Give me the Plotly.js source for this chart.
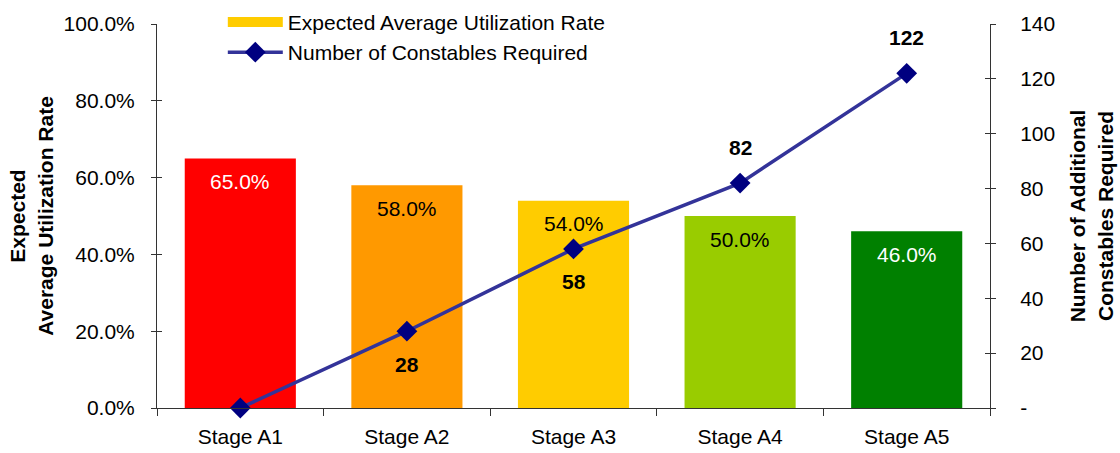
<!DOCTYPE html>
<html><head><meta charset="utf-8">
<script src="https://cdn.plot.ly/plotly-3.0.1.min.js"></script>
<style>body{margin:0;background:#fff}#c{width:1120px;height:453px}</style>
</head><body><div id="c"></div>
<script>
const stages = ['Stage A1','Stage A2','Stage A3','Stage A4','Stage A5'];
const utilization = [0.65, 0.58, 0.54, 0.50, 0.46];
const constables = [0, 28, 58, 82, 122];
const barColors = ['#FF0000','#FF9900','#FFCC00','#99CC00','#008000'];
const barLabelColors = ['#FFFFFF','#000000','#000000','#000000','#FFFFFF'];
const lineLabelSide = ['none','below','below','above','above'];
const leftTickVals = [0,0.2,0.4,0.6,0.8,1];
const rightTickVals = [0,20,40,60,80,100,120,140];
const rightTickText = ['-','20','40','60','80','100','120','140'];

const FONT = 'Liberation Sans, Arial, sans-serif';
const FS = 21;

const bars = {
  type:'bar', x:stages, y:utilization, name:'Expected Average Utilization Rate',
  marker:{color:barColors}, hoverinfo:'skip', showlegend:false
};
const legendBar = {
  type:'scatter', mode:'lines', x:[null], y:[null], name:'Expected Average Utilization Rate',
  line:{color:'#FFCC00', width:15}, legendgroup:'a'
};
const line = {
  type:'scatter', mode:'lines+markers', x:stages, y:constables, yaxis:'y2',
  name:'Number of Constables Required', legendgroup:'b',
  line:{color:'#333399', width:3.5},
  marker:{symbol:'diamond', size:16, color:'#000080'},
  cliponaxis:false
};
// helper traces on overlay axes so that inward tick halves are drawn
const helperL = {type:'scatter', mode:'none', x:[stages[0]], y:[null], yaxis:'y3', showlegend:false, hoverinfo:'skip'};
const helperR = {type:'scatter', mode:'none', x:[stages[0]], y:[null], yaxis:'y4', showlegend:false, hoverinfo:'skip'};

const annotations = [];
stages.forEach((s,i)=>{
  annotations.push({x:s, y:utilization[i], xref:'x', yref:'y', yanchor:'middle',
    text:(utilization[i]*100).toFixed(1)+'%', showarrow:false, yshift:-23,
    font:{family:FONT, size:FS, color:barLabelColors[i]}});
  if(lineLabelSide[i] !== 'none'){
    annotations.push({x:s, y:constables[i], xref:'x', yref:'y2', yanchor:'middle',
      text:'<b>'+constables[i]+'</b>', showarrow:false,
      yshift: lineLabelSide[i]==='below' ? -33 : 36,
      font:{family:FONT, size:FS, color:'#000'}});
  }
});

const axisCommon = {showgrid:false, zeroline:false, linecolor:'#333', tickcolor:'#333', tickwidth:1};

const layout = {
  width:1120, height:453,
  margin:{l:157, r:130, t:24, b:45, autoexpand:false},
  paper_bgcolor:'#fff', plot_bgcolor:'#fff',
  font:{family:FONT, size:FS, color:'#000'},
  bargap:0.333,
  showlegend:true,
  legend:{x:0.079, y:1.058, xanchor:'left', yanchor:'top', bgcolor:'rgba(0,0,0,0)',
    font:{family:FONT, size:FS}, itemwidth:55, tracegroupgap:0, traceorder:'grouped'},
  xaxis:Object.assign({}, axisCommon, {showline:true, ticks:'outside', ticklen:7,
    tickson:'boundaries', ticklabelstandoff:10, tickfont:{family:FONT, size:FS}}),
  yaxis:Object.assign({}, axisCommon, {range:[0,1], tickvals:leftTickVals, tickformat:'.1%', showline:true,
    ticks:'outside', ticklen:5, ticklabelstandoff:12, tickfont:{family:FONT, size:FS},
    title:{text:'<b>Expected<br>Average Utilization Rate</b>', font:{family:FONT, size:FS}, standoff:4}}),
  yaxis2:Object.assign({}, axisCommon, {range:[0,140], overlaying:'y', side:'right', tickvals:rightTickVals, ticktext:rightTickText,
    showline:true, ticks:'outside', ticklen:5, ticklabelstandoff:20, tickfont:{family:FONT, size:FS},
    title:{text:'<b>Number of Additional<br>Constables Required</b>', font:{family:FONT, size:FS}, standoff:16}}),
  yaxis3:Object.assign({}, axisCommon, {range:[0,1], tickvals:leftTickVals, overlaying:'y', side:'left',
    showline:false, ticks:'inside', ticklen:5, showticklabels:false}),
  yaxis4:Object.assign({}, axisCommon, {range:[0,140], tickvals:rightTickVals, overlaying:'y', side:'right',
    showline:false, ticks:'inside', ticklen:5, showticklabels:false}),
  annotations
};

Plotly.newPlot('c', [bars, helperL, helperR, legendBar, line], layout, {displayModeBar:false, staticPlot:true});
</script></body></html>
